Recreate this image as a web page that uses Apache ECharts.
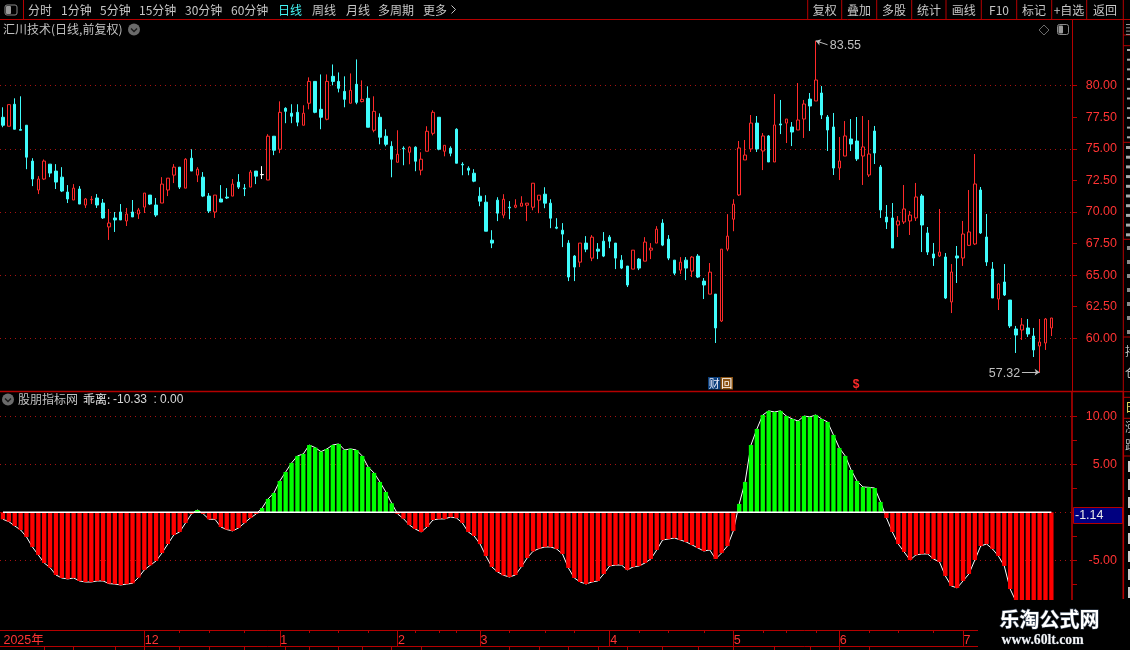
<!DOCTYPE html>
<html><head><meta charset="utf-8">
<style>html,body{margin:0;padding:0;background:#000}#c{width:1130px;height:650px}</style>
<script src="https://cdn.jsdelivr.net/npm/echarts@6/dist/echarts.min.js"></script>
</head><body><div id="c"></div>
<script>
const highs=[78.29,78.5,79.0,79.16,76.87,74.26,72.84,74.16,73.79,73.79,
73.55,72.13,72.21,72.05,71.11,71.26,71.42,71.03,70.24,70.0,
70.63,70.32,70.95,70.32,71.5,71.34,71.11,72.76,72.68,73.79,
73.55,74.26,74.97,73.55,73.16,71.5,71.34,72.13,71.89,72.61,
73.0,72.21,73.32,73.24,73.63,76.16,76.0,78.76,78.29,78.53,
78.53,78.45,80.66,80.34,80.89,80.89,81.68,81.05,80.74,80.97,
82.08,80.42,79.95,79.16,77.81,76.55,75.6,76.47,75.2,75.2,
75.2,74.73,76.79,78.05,77.5,75.28,75.2,76.63,73.94,73.62,
73.39,71.96,71.33,68.56,71.17,71.41,70.86,71.01,71.25,70.7,
72.28,71.33,71.96,71.01,69.51,69.12,67.77,66.59,67.54,68.09,
68.17,67.54,68.41,68.17,67.54,66.59,65.72,66.98,66.35,68.01,
67.54,68.88,69.43,68.17,66.19,66.43,66.43,66.51,66.67,64.77,
65.96,63.5,67.06,69.83,71.01,75.62,75.7,77.68,77.6,76.25,
76.09,79.34,78.87,77.36,77.12,80.21,78.87,79.42,83.55,79.97,
77.68,77.84,75.94,77.2,77.36,77.52,77.6,77.28,76.81,73.72,
70.55,70.71,69.68,72.14,70.08,72.3,71.42,68.81,67.55,70.24,
66.75,65.88,67.31,69.29,71.74,74.59,71.98,69.84,66.04,64.38,
65.88,63.03,60.98,61.61,61.53,60.82,61.53,61.61,61.61];
const bodyTops=[77.5,78.5,78.53,76.53,76.87,74.03,72.61,74.03,73.79,73.24,
72.76,71.58,71.89,71.82,71.03,71.0,71.11,70.71,69.13,69.53,
70.0,69.84,70.0,70.16,71.5,71.34,70.55,72.21,72.68,73.55,
73.55,74.18,74.26,73.39,72.76,71.26,71.34,71.03,71.18,72.21,
72.37,71.89,73.16,73.24,72.97,76.0,76.0,77.89,78.21,77.82,
77.89,77.82,80.34,80.34,78.13,80.34,80.74,80.34,79.55,79.63,
80.11,78.92,79.0,77.97,77.5,76.0,75.2,74.57,75.05,75.13,
75.13,74.18,76.39,77.89,77.5,75.28,75.05,76.55,73.78,73.47,
73.07,71.25,70.78,67.77,70.94,71.01,70.38,70.54,70.7,70.7,
72.28,71.33,71.41,70.7,68.8,68.56,67.54,66.51,67.54,67.54,
68.01,67.06,67.69,68.01,67.54,66.19,65.72,66.98,66.27,67.62,
67.14,68.64,69.12,67.85,66.19,66.03,66.19,66.43,66.51,64.53,
65.24,63.5,67.06,68.09,70.62,75.07,74.51,77.04,77.04,76.02,
76.02,76.89,76.97,77.36,76.73,77.28,78.55,78.94,80.45,79.42,
77.52,76.73,74.04,76.02,75.78,75.62,75.15,74.59,76.41,73.56,
69.6,69.53,69.29,70.24,69.76,71.19,71.27,68.34,66.68,66.83,
66.44,65.25,66.52,68.26,68.42,72.22,71.74,68.02,65.49,64.3,
64.46,63.03,60.74,61.06,60.82,60.18,59.71,61.53,61.61];
const bodyBottoms=[76.87,76.79,76.55,76.47,74.34,72.61,71.74,72.61,73.08,72.37,
71.66,71.03,70.95,70.63,70.55,70.97,70.55,69.53,68.82,69.37,
69.37,69.29,69.61,69.84,70.39,70.63,69.76,70.71,71.74,72.92,
71.97,71.89,73.24,72.92,71.26,70.08,70.0,70.79,71.11,71.26,
71.97,71.84,71.97,72.84,72.95,72.53,74.89,74.97,77.97,77.58,
77.11,76.87,78.61,77.89,77.5,77.34,80.34,79.79,78.92,78.61,
78.68,78.74,76.71,76.47,75.92,75.36,74.18,73.94,75.0,74.73,
74.02,73.31,74.81,76.23,74.97,74.81,74.65,73.86,73.73,73.31,
72.44,70.86,68.48,67.54,69.91,69.75,70.33,70.38,70.46,70.54,
70.38,70.94,70.7,69.51,68.72,68.25,64.85,65.64,66.03,67.06,
66.35,66.9,66.51,67.69,66.35,65.56,64.22,65.48,65.56,66.11,
66.98,67.54,67.38,66.35,65.16,65.4,65.56,65.32,64.85,64.22,
63.5,60.82,61.37,67.06,69.43,71.35,74.12,74.99,74.99,74.83,
73.96,73.96,76.89,77.04,76.33,76.49,77.36,78.39,78.79,77.68,
76.49,73.48,73.48,74.43,75.38,74.2,74.43,72.93,74.67,70.16,
69.21,67.15,68.97,69.21,69.29,69.53,68.97,66.83,66.36,66.52,
63.19,62.88,66.36,66.36,67.36,67.47,68.34,66.04,63.19,63.11,
63.43,60.98,60.26,60.66,60.34,59.08,59.39,59.63,60.82];
const lows=[76.71,76.79,76.55,76.47,73.39,72.05,71.42,72.53,72.76,71.82,
71.58,70.71,70.95,70.63,70.32,70.63,70.32,69.45,67.79,68.42,
69.37,68.89,69.61,69.45,69.92,70.55,69.61,70.71,71.26,72.29,
71.82,71.89,73.24,72.37,71.18,69.92,69.53,70.79,71.03,71.26,
71.82,71.26,71.97,72.21,72.61,72.53,74.5,74.66,77.03,77.03,
76.79,76.87,78.13,77.82,76.55,77.26,80.03,79.47,78.29,78.61,
78.53,78.68,76.71,76.31,75.36,75.2,72.75,73.94,73.7,73.78,
73.23,72.91,74.81,76.07,74.89,74.41,74.41,73.86,72.91,72.91,
72.36,70.46,68.48,67.14,69.28,69.51,69.43,70.3,70.46,69.28,
70.14,69.91,70.3,68.72,68.64,67.22,64.53,64.53,65.64,66.82,
66.11,66.27,66.43,67.14,65.48,65.48,64.06,65.48,65.4,66.11,
66.27,67.54,67.3,66.19,65.0,65.09,64.61,64.85,64.77,63.11,
63.5,59.63,61.29,66.9,68.48,71.27,74.12,74.75,74.75,73.32,
73.96,73.96,76.17,75.46,75.22,76.49,75.86,76.41,78.79,77.36,
74.83,72.93,72.53,74.43,74.83,74.04,72.14,72.77,73.8,69.53,
68.65,67.15,68.02,69.05,68.18,69.29,66.83,66.6,65.73,66.44,
63.11,62.0,64.38,65.73,67.31,67.39,68.26,65.73,63.19,62.24,
63.35,60.82,58.84,59.87,60.11,58.52,57.32,59.08,60.18];
const upDays=[1,6,7,12,14,15,18,21,23,24,27,28,29,31,33,36,39,42,45,47,51,52,55,59,61,63,67,69,71,72,73,75,85,87,88,89,90,91,98,100,107,109,110,111,115,117,120,122,123,124,125,126,127,129,131,133,135,136,138,142,143,146,147,152,153,154,155,159,161,163,164,165,169,173,176,177,178];
const flatDay=44;
const bias=[-0.73,-0.97,-1.42,-1.84,-2.57,-3.61,-4.44,-5.28,-5.76,-6.53,
-6.84,-6.94,-6.84,-7.15,-7.26,-7.26,-7.15,-7.15,-7.43,-7.47,
-7.57,-7.47,-7.4,-6.8,-6.0,-5.52,-5.07,-4.24,-3.3,-2.36,
-2.05,-1.11,-0.17,0.24,-0.17,-0.73,-0.73,-1.53,-1.8,-1.94,
-1.63,-1.11,-0.59,-0.17,0.45,1.39,2.01,3.26,4.2,5.14,
5.87,6.08,7.01,6.74,6.32,6.6,7.01,7.12,6.49,6.6,
6.49,5.87,4.72,4.1,3.16,2.12,0.94,-0.17,-0.66,-1.32,
-1.74,-2.05,-1.53,-0.8,-0.69,-0.69,-0.49,-0.59,-1.11,-2.05,
-2.47,-3.3,-4.55,-5.69,-6.22,-6.56,-6.74,-6.53,-5.69,-4.76,
-4.06,-3.78,-3.61,-3.61,-3.82,-4.34,-5.8,-6.84,-7.26,-7.47,
-7.26,-7.15,-6.42,-5.59,-5.49,-5.49,-6.0,-5.69,-5.59,-5.28,
-4.86,-3.92,-2.88,-2.78,-2.67,-2.88,-3.09,-3.4,-3.72,-4.03,
-3.92,-4.86,-4.24,-3.51,-1.94,0.87,3.16,7.01,8.68,10.14,
10.56,10.45,10.56,10.03,9.72,9.51,10.03,9.93,10.14,9.72,
9.41,8.06,6.7,5.87,4.41,3.26,2.64,2.6,2.53,1.08,
-0.59,-2.05,-3.3,-4.13,-4.97,-4.44,-4.34,-4.34,-4.86,-5.17,
-6.63,-7.67,-7.88,-7.15,-6.42,-4.97,-3.51,-3.3,-3.82,-4.55,
-5.59,-7.99,-9.3,-9.5,-9.7,-9.95,-10.15,-10.25,-10.33];
const monthLabels={0:'2025年',24:'12',47:'1',67:'2',81:'3',103:'4',124:'5',142:'6',163:'7'};
const weekTicks=[30,35,41,52,57,62,70,74,77,86,92,97,108,113,119,129,133,138,147,152,158];
const lowerTicks=[7,12,19,24,30,35,41,48,52,57,61,66,71,86,91,96,101,106,112,118,124,131,137,142,147];
const priceTicks=[80,77.5,75,72.5,70,67.5,65,62.5,60];
const priceGrid=[80,75,70,65,60];
const biasTicks=[10,7.5,5,2.5,-2.5,-5,-7.5];
const biasLabels=[10,5,-5];
const biasGrid=[10,5,0,-5];
const slotCount=182;
const toolbarLeft=[['分时',28],['1分钟',61],['5分钟',100],['15分钟',139],['30分钟',185],['60分钟',231],['日线',278],['周线',312],['月线',346],['多周期',378],['更多',423]];
const toolbarRight=[['复权',824.7],['叠加',859],['多股',894],['统计',929],['画线',963.7],['F10',999],['标记',1034],['+自选',1069],['返回',1105]];
const toolbarSeparators=[807.7,841.7,876.7,911.7,946,981.3,1016.7,1051.7,1086.7,1123.3];

const RED='#b40000',TXT='#ff3333',GRID='#a81212',CYAN='#3ffcfc',HOLLOW='#ff2a2a';
const CJK='"Noto Sans CJK SC"', NUM='"Liberation Sans"';
const categories=Array.from({length:slotCount},(_,i)=>'d'+i);
const ups=new Set(upDays);
const candles=highs.map((h,i)=>{
  const up=ups.has(i);
  const value=up?[bodyBottoms[i],bodyTops[i],lows[i],h]:[bodyTops[i],bodyBottoms[i],lows[i],h];
  if(i===flatDay) return {value,itemStyle:{color:'#fff',color0:'#fff',borderColor:'#fff',borderColor0:'#fff'}};
  return value;
});
const zeroLine=bias.map(()=>0);
const dotted={color:GRID,width:1,type:[1,4]};

function T(text,x,y,fill,font,extra){return Object.assign({type:'text',silent:true,z:50,style:{text,x,y,fill,font,verticalAlign:'middle',align:'left'}},extra||{});}
function tc(text,x,y,fill,font){const e=T(text,x,y,fill,font);e.style.align='center';return e;}
function L(x1,y1,x2,y2,color,w,z){return {type:'line',silent:true,z:z||40,shape:{x1,y1,x2,y2},style:{stroke:color,lineWidth:w||1}};}
function R(x,y,w,h,fill,stroke,r,z){return {type:'rect',silent:true,z:z||45,shape:{x,y,width:w,height:h,r:r||0},style:{fill:fill||'transparent',stroke:stroke||null,lineWidth:1}};}
function chevronIcon(cx,cy){return [
 {type:'circle',silent:true,z:50,shape:{cx,cy,r:6},style:{fill:'#6a6a6a'}},
 {type:'polyline',silent:true,z:51,shape:{points:[[cx-3,cy-1],[cx,cy+2],[cx+3,cy-1]]},style:{stroke:'#1a1a1a',lineWidth:1.4,fill:null}}];}
function panelIcon(x,y,w,h){return [
 R(x,y,w,h,'#000','#8a8a8a',2,50),
 R(x+1,y+1,w/2-1,h-2,'#9a9a9a',null,1,51)];}

const gfx=[];
gfx.push(L(0,19.5,1130,19.5,RED,1));
gfx.push(L(23.5,0,23.5,19.5,RED,1));
gfx.push(...panelIcon(5,5,12,10));
toolbarLeft.forEach(([t,x])=>gfx.push(T(t,x,10,t==='日线'?'#44f4f4':'#c6c6c6','12px '+CJK)));
gfx.push({type:'polyline',silent:true,z:50,shape:{points:[[451.5,5.5],[455.5,9.5],[451.5,13.5]]},style:{stroke:'#c6c6c6',lineWidth:1,fill:null}});
toolbarRight.forEach(([t,x])=>gfx.push(tc(t,x,10,'#c6c6c6','12px '+CJK)));
toolbarSeparators.forEach(x=>gfx.push(L(x,0,x,19.5,RED,1)));
gfx.push(T('汇川技术(日线,前复权)',3,29.5,'#c0c0c0','12px '+CJK));
gfx.push(...chevronIcon(134,29.5));
gfx.push({type:'polygon',silent:true,z:50,shape:{points:[[1044,25],[1049,30],[1044,35],[1039,30]]},style:{fill:null,stroke:'#6a6a6a',lineWidth:1}});
gfx.push(...panelIcon(1057.5,24.5,11,10));
gfx.push(L(0,391.5,1123,391.5,RED,1.4));
gfx.push(L(1123.3,19.5,1123.3,391,RED,1));
gfx.push(L(1123.3,391,1123.3,599,RED,1.6));
[35,45.7,142.3,239.3,337,391.7,397.3,418.3,456].forEach(y=>gfx.push(L(1123.3,y,1130,y,RED,1)));
for(let y=24;y<34;y+=3.3)gfx.push(R(1126,y,4,1,'#999'));
for(let y=49;y<140;y+=9.7)gfx.push(R(1127,y,3,2,'#aaa'));
for(let y=146;y<236;y+=9.7)gfx.push(R(1126,y,4,3,'#aaa'));
for(let y=246;y<335;y+=14)gfx.push(R(1127,y,3,4,'#8a8a8a'));
gfx.push(T('持',1125,351,'#bbb','12px '+CJK),T('仓',1125,372,'#bbb','12px '+CJK));
gfx.push(T('日',1125,407.5,'#e8e060','12px '+CJK));
gfx.push(T('涨',1125,427,'#bbb','12px '+CJK),T('跌',1125,445,'#bbb','12px '+CJK));
for(let y=461;y<598;y+=18)gfx.push(R(1128,y,2,11,'#ccc'));
gfx.push(R(708,377,12.5,12.5,'#0b3f7c',null,0,50),tc('财',714.2,383.5,'#e8e8f8','11px '+CJK));
gfx.push(R(720.5,377,12.5,12.5,'#8a5212',null,0,50),tc('回',726.7,383.5,'#fff','11px '+CJK));
gfx.push(tc('$',856,385,'#ff2a2a','bold 12px '+NUM));
gfx.push(...chevronIcon(8,399.5));
gfx.push(T('股朋指标网',18,399.5,'#c0c0c0','12px '+CJK));
gfx.push(T('乖离:',83,399.5,'#e8e8e8','12px '+CJK));
gfx.push(T('-10.33',113,399.5,'#d8d8d8','12px '+NUM));
gfx.push(T(':',153.5,399.5,'#d8d8d8','12px '+NUM));
gfx.push(T('0.00',160,399.5,'#d8d8d8','12px '+NUM));
gfx.push(R(1073.5,507.5,49,16,'#000080',RED,0,50));
gfx.push(T('-1.14',1075,515.5,'#e8e8e8','12.5px '+NUM));
gfx.push(R(978,600,152,50,'#000',null,0,100));
gfx.push({type:'text',silent:true,z:101,style:{text:'乐淘公式网',x:999.5,y:619.5,fill:'#fff',stroke:'#3a4658',lineWidth:1.2,font:'bold 20px '+CJK,verticalAlign:'middle'}});
gfx.push({type:'text',silent:true,z:101,style:{text:'www.60lt.com',x:1001.5,y:640,fill:'#f4f4f4',stroke:'#3a4658',lineWidth:.6,font:'bold 13.7px "Liberation Serif"',verticalAlign:'middle'}});

const monthIdx=Object.keys(monthLabels).map(Number).filter(i=>i>0);
const chart=echarts.init(document.getElementById('c'),null,{renderer:'canvas'});
chart.setOption({
 animation:false,backgroundColor:'#000',
 grid:[{left:-0.65,right:58,top:20,height:371},{left:-0.65,right:58,top:392,height:238}],
 xAxis:[
  {type:'category',gridIndex:0,data:categories,axisLine:{show:false},axisTick:{show:false},axisLabel:{show:false},splitLine:{show:false}},
  {type:'category',gridIndex:1,data:categories,position:'bottom',
   axisLine:{show:true,onZero:false,lineStyle:{color:RED,width:1}},
   axisTick:{show:true,alignWithLabel:true,length:16,lineStyle:{color:RED,width:1},interval:i=>monthIdx.includes(i)},
   axisLabel:{show:true,interval:i=>monthLabels[i]!==undefined,formatter:(v,i)=>monthLabels[i]||'',color:TXT,fontSize:12.5,fontFamily:NUM+','+CJK,align:'left',margin:4,padding:[0,0,0,0.5]},splitLine:{show:false}},
  {type:'category',gridIndex:1,data:categories,position:'bottom',
   axisLine:{show:false,onZero:false},
   axisTick:{show:true,alignWithLabel:true,length:3,lineStyle:{color:RED,width:1},interval:i=>weekTicks.includes(i)},
   axisLabel:{show:false},splitLine:{show:false}},
  {type:'category',gridIndex:1,data:categories,position:'bottom',offset:16.3,
   axisLine:{show:true,onZero:false,lineStyle:{color:RED,width:1}},
   axisTick:{show:true,alignWithLabel:true,length:4,lineStyle:{color:RED,width:1},interval:i=>lowerTicks.includes(i)},
   axisLabel:{show:false},splitLine:{show:false}}
 ],
 yAxis:[
  {type:'value',gridIndex:0,position:'right',min:55.83,max:85.2,scale:true,
   axisLine:{show:true,lineStyle:{color:RED,width:1}},
   axisTick:{show:true,length:5,lineStyle:{color:RED},customValues:priceTicks},
   axisLabel:{show:true,color:TXT,fontSize:12.5,fontFamily:NUM,align:'right',margin:45,customValues:priceTicks,formatter:v=>v.toFixed(2)},
   splitLine:{show:false}},
  {type:'value',gridIndex:1,position:'right',min:-12.26,max:12.53,scale:true,
   axisLine:{show:true,lineStyle:{color:RED,width:1.6}},
   axisTick:{show:true,length:5,lineStyle:{color:RED},customValues:biasTicks},
   axisLabel:{show:true,color:TXT,fontSize:12.5,fontFamily:NUM,align:'right',margin:45,customValues:biasLabels,formatter:v=>v.toFixed(2)},
   splitLine:{show:false}}
 ],
 series:[
  {type:'candlestick',name:'汇川技术',xAxisIndex:0,yAxisIndex:0,barWidth:3,data:candles,z:5,progressive:0,
   itemStyle:{color:'#000',color0:CYAN,borderColor:HOLLOW,borderColor0:CYAN,borderWidth:1},
   markLine:{silent:true,symbol:['none','none'],animation:false,z:1,label:{show:false},lineStyle:dotted,
    data:[...priceGrid.map(v=>({yAxis:v})),
     [{coord:['d140',83.24],lineStyle:{color:'#bdbdbd',type:'solid',width:1}},{coord:['d138',83.55],symbol:'arrow',symbolSize:5,lineStyle:{color:'#bdbdbd',type:'solid',width:1}}],
     [{coord:['d173',57.32],lineStyle:{color:'#bdbdbd',type:'solid',width:1}},{coord:['d176',57.32],symbol:'arrow',symbolSize:5,lineStyle:{color:'#bdbdbd',type:'solid',width:1}}]
    ]},
   markPoint:{silent:true,animation:false,symbol:'circle',symbolSize:1,itemStyle:{color:'transparent'},
    data:[
     {coord:['d138',83.55],label:{show:true,formatter:'83.55',position:'right',distance:0,offset:[13.5,4.5],color:'#c0c0c0',fontSize:12.5,fontFamily:NUM}},
     {coord:['d176',57.32],label:{show:true,formatter:'57.32',position:'left',distance:0,offset:[-19,1],color:'#c0c0c0',fontSize:12.5,fontFamily:NUM}}
    ]}
  },
  {type:'line',name:'乖离线',xAxisIndex:1,yAxisIndex:1,data:bias,showSymbol:false,symbol:'none',z:2,lineStyle:{color:'#fff',width:1},
   markLine:{silent:true,z:1,symbol:['none','none'],animation:false,label:{show:false},lineStyle:dotted,data:biasGrid.map(v=>({yAxis:v}))}},
  {type:'bar',name:'乖离',xAxisIndex:1,yAxisIndex:1,barWidth:4.3,z:3,
   data:bias.map(v=>({value:v,itemStyle:{color:v>=0?'#00ff00':'#ff0000'}}))},
  {type:'line',name:'零轴',xAxisIndex:1,yAxisIndex:1,data:zeroLine,showSymbol:false,symbol:'none',z:4,lineStyle:{color:'#fff',width:1.6}}
 ],
 graphic:{elements:gfx}
});
</script></body></html>
